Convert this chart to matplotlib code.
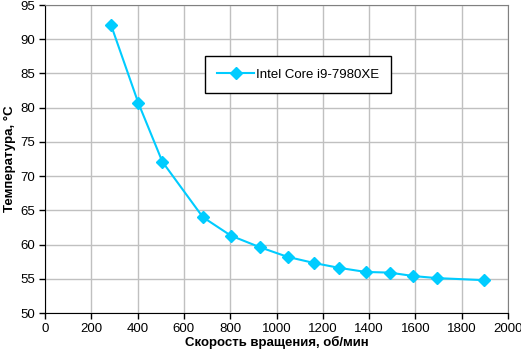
import matplotlib
matplotlib.use("Agg")
import matplotlib.pyplot as plt
from matplotlib.ticker import MultipleLocator

plt.rcParams.update({"font.family": ["Liberation Sans", "DejaVu Sans"], "font.size": 9.5})

SERIES = "Intel Core i9-7980XE"
rpm = [285, 403, 507, 682, 803, 929, 1048, 1163, 1270, 1385, 1489, 1591, 1692, 1895]
temp = [92.1, 80.7, 72.1, 64.0, 61.3, 59.6, 58.2, 57.3, 56.6, 56.0, 55.9, 55.4, 55.1, 54.8]

CYAN = "#00CCFF"

fig = plt.figure(figsize=(5.21, 3.55), dpi=100)
ax = fig.add_axes([45 / 521, 42 / 355, 463 / 521, 308 / 355])

ax.plot(rpm, temp, color=CYAN, lw=1.5, marker="D", ms=6, mec=CYAN, mfc=CYAN,
        label=SERIES, zorder=3)

ax.set_xlim(0, 2000)
ax.set_ylim(50, 95)
ax.xaxis.set_major_locator(MultipleLocator(200))
ax.yaxis.set_major_locator(MultipleLocator(5))
ax.grid(True, color="#C0C0C0", lw=1)
ax.set_axisbelow(True)
for s in ("top", "right"):
    ax.spines[s].set_color("#808080")
for s in ("left", "bottom"):
    ax.spines[s].set_color("black")
ax.tick_params(direction="out", length=4, width=1, color="black", labelsize=9.5, pad=3)

ax.set_xlabel("Скорость вращения, об/мин", fontweight="bold", fontsize=9.5, labelpad=1)
ax.set_ylabel("Температура, °C", fontweight="bold", fontsize=9.5, labelpad=3)

leg = ax.legend(loc="upper left", bbox_to_anchor=(0.345, 0.835), frameon=True,
                fancybox=False, edgecolor="black", framealpha=1, borderpad=0.95,
                handlelength=2.8, handletextpad=0.1, fontsize=9.5, borderaxespad=0)
leg.get_frame().set_linewidth(1)

fig.savefig("out.png", dpi=100)
